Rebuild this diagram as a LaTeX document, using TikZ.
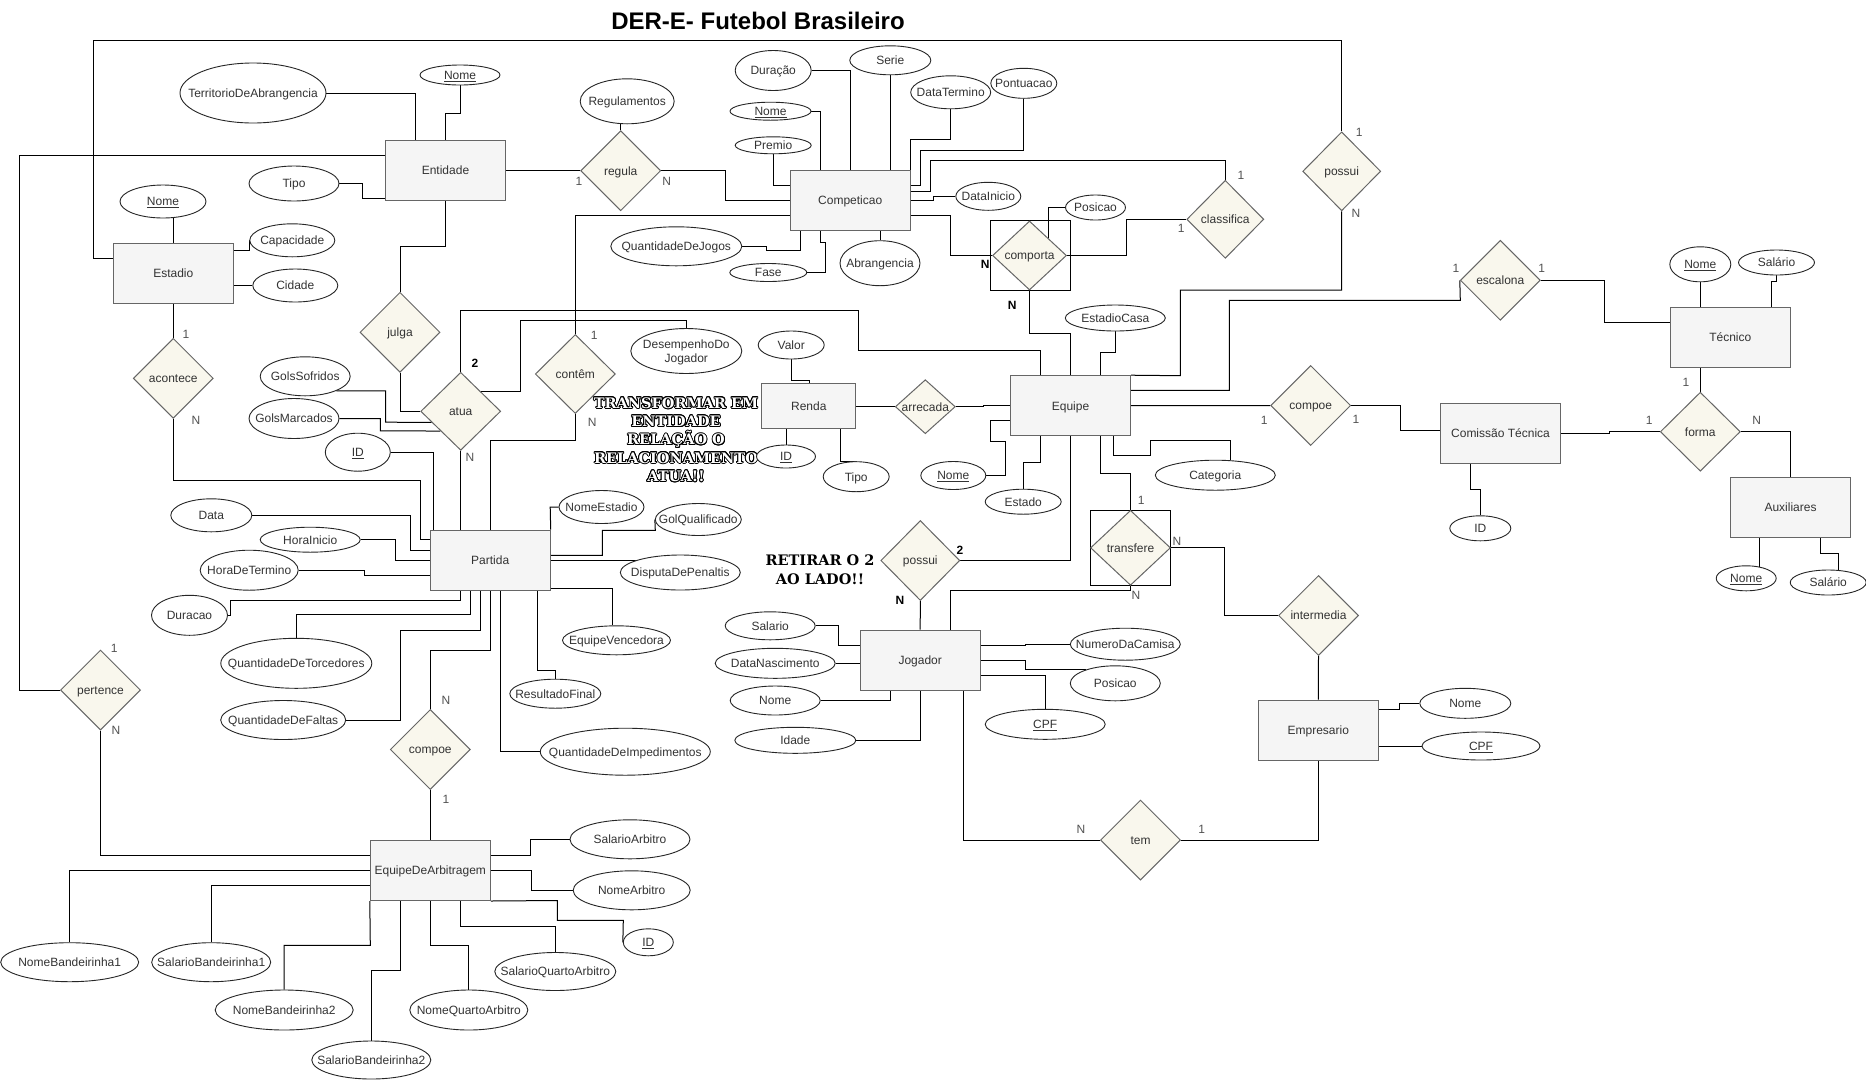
\documentclass[tikz,border=0pt]{standalone}
\usepackage{fontspec}
\setmainfont{Liberation Sans}
\newfontfamily\deco{DejaVu Serif}
\usepackage{contour}
\contourlength{0.9pt}
\usetikzlibrary{shapes.geometric,calc}
\pgfdeclarelayer{bg}
\pgfsetlayers{bg,main}
\definecolor{entfill}{HTML}{F5F5F5}
\definecolor{entdraw}{HTML}{666666}
\definecolor{relfill}{HTML}{F9F7ED}
\definecolor{txt}{HTML}{333333}
\newcommand{\tx}[1]{\raisebox{-0.36em}[0pt][0pt]{\makebox[0pt]{#1}}}
\tikzset{
  wh/.style 2 args={minimum width=#1pt, minimum height=#2pt},
  ent/.style={rectangle, draw=entdraw, fill=entfill, line width=1pt, inner sep=0pt, minimum width=120pt, minimum height=60pt, text=txt},
  rel/.style={diamond, draw=entdraw, fill=relfill, line width=1pt, inner sep=0pt, text=txt},
  att/.style={ellipse, draw=black!85, fill=white, line width=0.9pt, inner sep=0pt, text=txt},
  weakbox/.style={rectangle, draw=black, line width=1pt, inner sep=0pt},
  card/.style={text=txt!85!white, inner sep=0pt},
  cardb/.style={text=black, inner sep=0pt, font=\fontsize{12}{14}\selectfont\bfseries},
  con/.style={line width=1pt, black},
}
\begin{document}
\begin{tikzpicture}[x=1pt, y=-1pt, font=\fontsize{12}{14}\selectfont]
\useasboundingbox (0,0) rectangle (1866,1080);

% ---------- title and notes
\node[font=\fontsize{24}{28}\selectfont\bfseries, text=black, inner sep=0pt] (title) at (758,20.7) {DER-E- Futebol Brasileiro};
\node[font=\deco\bfseries\fontsize{14.5}{18.3}\selectfont, text=white, align=center, inner sep=0pt] (nota1) at (676,440)
  {\contour{black}{TRANSFORMAR EM}\\\contour{black}{ENTIDADE}\\\contour{black}{RELAÇÃO O}\\\contour{black}{RELACIONAMENTO}\\\contour{black}{ATUA!!}};
\node[font=\deco\bfseries\fontsize{14.5}{18.6}\selectfont, text=black, align=center, inner sep=0pt] (nota2) at (820,570)
  {RETIRAR O 2\\AO LADO!!};

% ---------- weak relationship frames
\node[weakbox, wh={80}{70}] (comportaBox) at (1030.3,255.2) {};
\node[weakbox, wh={80}{75}] (transfereBox) at (1130.5,547.8) {};

% ---------- entities
\node[ent] (entidade) at (445.5,170) {\tx{Entidade}};
\node[ent] (estadio) at (173.3,273.3) {\tx{Estadio}};
\node[ent] (competicao) at (850.2,200.5) {\tx{Competicao}};
\node[ent] (partida) at (490.2,560.2) {\tx{Partida}};
\node[ent, wh={94}{45}] (renda) at (808.8,405.8) {\tx{Renda}};
\node[ent] (equipe) at (1070.5,405.7) {\tx{Equipe}};
\node[ent] (jogador) at (920.2,660) {\tx{Jogador}};
\node[ent] (tecnico) at (1730.3,337.3) {\tx{Técnico}};
\node[ent] (comissao) at (1500.5,433.3) {\tx{Comissão Técnica}};
\node[ent] (auxiliares) at (1790.5,507.3) {\tx{Auxiliares}};
\node[ent] (empresario) at (1318.3,730.2) {\tx{Empresario}};
\node[ent] (arbitragem) at (430.3,870.5) {\tx{EquipeDeArbitragem}};

% ---------- relationships
\node[rel, wh={80}{80}] (regula) at (620.7,170.7) {\tx{regula}};
\node[rel, wh={80}{80}] (julga) at (400,332.3) {\tx{julga}};
\node[rel, wh={80}{80}] (acontece) at (173.3,378.3) {\tx{acontece}};
\node[rel, wh={80}{78}] (atua) at (460.7,411.3) {\tx{atua}};
\node[rel, wh={80}{79}] (contem) at (575.3,374) {\tx{contêm}};
\node[rel, wh={60}{54}] (arrecada) at (925.3,406.7) {\tx{arrecada}};
\node[rel, wh={74}{69}] (comporta) at (1029.5,255.5) {\tx{comporta}};
\node[rel, wh={77}{78}] (classifica) at (1225.3,219.3) {\tx{classifica}};
\node[rel, wh={78}{79}] (possuiE) at (1341.7,171.3) {\tx{possui}};
\node[rel, wh={80}{80}] (escalona) at (1500.3,280.3) {\tx{escalona}};
\node[rel, wh={80}{80}] (compoeE) at (1310.7,405.5) {\tx{compoe}};
\node[rel, wh={80}{79}] (forma) at (1700.3,431.7) {\tx{forma}};
\node[rel, wh={80}{75}] (transfere) at (1130.5,547.8) {\tx{transfere}};
\node[rel, wh={80}{80}] (intermedia) at (1318.5,615.5) {\tx{intermedia}};
\node[rel, wh={79}{80}] (possuiJ) at (920.3,560.5) {\tx{possui}};
\node[rel, wh={80}{80}] (tem) at (1140.5,840) {\tx{tem}};
\node[rel, wh={80}{80}] (compoeA) at (430.3,749.5) {\tx{compoe}};
\node[rel, wh={80}{80}] (pertence) at (100.5,690) {\tx{pertence}};

% ---------- attributes
\node[att, wh={146}{60}] (territorio) at (253,93) {\tx{TerritorioDeAbrangencia}};
\node[att, wh={80}{20}] (entNome) at (460,75) {\tx{\underline{Nome}}};
\node[att, wh={90}{35}] (tipoEnt) at (294,183.5) {\tx{Tipo}};
\node[att, wh={86}{33}] (estNome) at (163,201.5) {\tx{\underline{Nome}}};
\node[att, wh={85}{33}] (capacidade) at (292.3,240.3) {\tx{Capacidade}};
\node[att, wh={85}{33}] (cidade) at (295.3,285.5) {\tx{Cidade}};
\node[att, wh={94}{45}] (regulamentos) at (627.2,101.3) {\tx{Regulamentos}};
\node[att, wh={76}{40}] (duracaoC) at (773.2,70.5) {\tx{Duração}};
\node[att, wh={81}{29}] (serie) at (890.3,60.3) {\tx{Serie}};
\node[att, wh={81}{18}] (compNome) at (770.5,111.2) {\tx{\underline{Nome}}};
\node[att, wh={76}{17}] (premio) at (773.2,145.3) {\tx{Premio}};
\node[att, wh={80}{33}] (dataTermino) at (950.7,92.3) {\tx{DataTermino}};
\node[att, wh={66}{30}] (pontuacao) at (1023.8,83.3) {\tx{Pontuacao}};
\node[att, wh={65}{28}] (dataInicio) at (988.3,196.3) {\tx{DataInicio}};
\node[att, wh={131}{39}] (qtdJogos) at (676.3,246.3) {\tx{QuantidadeDeJogos}};
\node[att, wh={77}{18}] (fase) at (768.3,272.5) {\tx{Fase}};
\node[att, wh={80}{45}] (abrangencia) at (880,263.2) {\tx{Abrangencia}};
\node[att, wh={60}{25}] (posicaoC) at (1095.5,207.5) {\tx{Posicao}};
\node[att, wh={100}{26}] (estadioCasa) at (1115.3,318) {\tx{EstadioCasa}};
\node[att, wh={61}{35}] (tecNome) at (1700.3,264.3) {\tx{\underline{Nome}}};
\node[att, wh={76}{25}] (tecSalario) at (1776.5,262.5) {\tx{Salário}};
\node[att, wh={111}{45}] (desempenho) at (686.3,351)
  {\raisebox{-4.5pt}[0pt][0pt]{\makebox[0pt]{\begin{tabular}{@{}c@{}}DesempenhoDo\\Jogador\end{tabular}}}};
\node[att, wh={66}{28}] (valor) at (791.2,345) {\tx{Valor}};
\node[att, wh={59}{23}] (rendaID) at (786,456.5) {\tx{\underline{ID}}};
\node[att, wh={66}{30}] (rendaTipo) at (856.2,476.7) {\tx{Tipo}};
\node[att, wh={65}{28}] (equipeNome) at (953.3,475.5) {\tx{\underline{Nome}}};
\node[att, wh={76}{25}] (estado) at (1023.2,501.7) {\tx{Estado}};
\node[att, wh={120}{30}] (categoria) at (1215.3,475.2) {\tx{Categoria}};
\node[att, wh={61}{25}] (comID) at (1480.3,528.3) {\tx{ID}};
\node[att, wh={60}{25}] (auxNome) at (1746.2,578.3) {\tx{\underline{Nome}}};
\node[att, wh={76}{25}] (auxSalario) at (1828.2,582.5) {\tx{Salário}};
\node[att, wh={90}{39}] (golsSofridos) at (305.2,376.3) {\tx{GolsSofridos}};
\node[att, wh={90}{40}] (golsMarcados) at (294,418.5) {\tx{GolsMarcados}};
\node[att, wh={65}{38}] (partidaID) at (357.8,452.2) {\tx{\underline{ID}}};
\node[att, wh={81}{33}] (data) at (211.3,515.3) {\tx{Data}};
\node[att, wh={100}{25}] (horaInicio) at (310.2,539.7) {\tx{HoraInicio}};
\node[att, wh={98}{40}] (horaTermino) at (249.2,570.2) {\tx{HoraDeTermino}};
\node[att, wh={76}{40}] (duracaoP) at (189.5,615.3) {\tx{Duracao}};
\node[att, wh={151}{50}] (torcedores) at (296.3,663.3) {\tx{QuantidadeDeTorcedores}};
\node[att, wh={125}{39}] (faltas) at (283.2,720) {\tx{QuantidadeDeFaltas}};
\node[att, wh={85}{33}] (nomeEstadio) at (601.5,507) {\tx{NomeEstadio}};
\node[att, wh={86}{32}] (golQualificado) at (698.3,519.5) {\tx{GolQualificado}};
\node[att, wh={120}{35}] (disputa) at (680.3,572.5) {\tx{DisputaDePenaltis}};
\node[att, wh={108}{29}] (equipeVencedora) at (616.5,640.3) {\tx{EquipeVencedora}};
\node[att, wh={91}{29}] (resultadoFinal) at (555.3,693.7) {\tx{ResultadoFinal}};
\node[att, wh={170}{47}] (impedimentos) at (625.3,751.7) {\tx{QuantidadeDeImpedimentos}};
\node[att, wh={90}{28}] (jogSalario) at (770.2,625.8) {\tx{Salario}};
\node[att, wh={120}{30}] (dataNasc) at (775.2,663.3) {\tx{DataNascimento}};
\node[att, wh={90}{29}] (jogNome) at (775.2,700.5) {\tx{Nome}};
\node[att, wh={121}{26}] (idade) at (795.3,740.3) {\tx{Idade}};
\node[att, wh={110}{32}] (camisa) at (1125.3,644.2) {\tx{NumeroDaCamisa}};
\node[att, wh={90}{35}] (jogPosicao) at (1115.3,683.3) {\tx{Posicao}};
\node[att, wh={120}{30}] (jogCPF) at (1045.2,724.3) {\tx{\underline{CPF}}};
\node[att, wh={91}{30}] (empNome) at (1465.3,703.3) {\tx{Nome}};
\node[att, wh={118}{28}] (empCPF) at (1481,746) {\tx{\underline{CPF}}};
\node[att, wh={120}{39}] (salarioArb) at (630,839.3) {\tx{SalarioArbitro}};
\node[att, wh={117}{39}] (nomeArb) at (631.7,890.3) {\tx{NomeArbitro}};
\node[att, wh={50}{27}] (arbID) at (648.3,942.3) {\tx{\underline{ID}}};
\node[att, wh={121}{38}] (salQuarto) at (555.3,971.5) {\tx{SalarioQuartoArbitro}};
\node[att, wh={118}{40}] (nomeQuarto) at (468.8,1010) {\tx{NomeQuartoArbitro}};
\node[att, wh={138}{39}] (nomeB1) at (69.7,962.2) {\tx{NomeBandeirinha1}};
\node[att, wh={119}{39}] (salB1) at (211.2,962.2) {\tx{SalarioBandeirinha1}};
\node[att, wh={138}{40}] (nomeB2) at (284.2,1010) {\tx{NomeBandeirinha2}};
\node[att, wh={119}{38}] (salB2) at (371.3,1060) {\tx{SalarioBandeirinha2}};

% ---------- cardinalities
\node[card] (l1) at (579,181) {1};
\node[card] (l2) at (666.7,181) {N};
\node[card] (l3) at (186,334) {1};
\node[card] (l4) at (196,420) {N};
\node[cardb] (l5) at (475,363.3) {2};
\node[card] (l6) at (470,457.7) {N};
\node[card] (l7) at (594.3,335) {1};
\node[card] (l8) at (592.3,422.7) {N};
\node[card] (l9) at (1359.3,132.3) {1};
\node[card] (l10) at (1356,213.3) {N};
\node[card] (l11) at (1241,175.7) {1};
\node[card] (l12) at (1181.3,228.3) {1};
\node[cardb] (l13) at (985.3,264) {N};
\node[cardb] (l14) at (1012.3,305.3) {N};
\node[card] (l15) at (1456,268.3) {1};
\node[card] (l16) at (1541.7,268.3) {1};
\node[card] (l17) at (1264.3,420) {1};
\node[card] (l18) at (1356,419) {1};
\node[card] (l19) at (1686,382.7) {1};
\node[card] (l20) at (1649.3,420) {1};
\node[card] (l21) at (1756.7,420) {N};
\node[card] (l22) at (1141.3,500) {1};
\node[card] (l23) at (1177,541.7) {N};
\node[card] (l24) at (1136,595.7) {N};
\node[cardb] (l25) at (960,550) {2};
\node[cardb] (l26) at (900,600.7) {N};
\node[card] (l27) at (1081,829.3) {N};
\node[card] (l28) at (1201.7,829.3) {1};
\node[card] (l29) at (114.3,648.3) {1};
\node[card] (l30) at (116,730.7) {N};
\node[card] (l31) at (446,700.7) {N};
\node[card] (l32) at (446,799.3) {1};

% ---------- connectors
\begin{pgfonlayer}{bg}
\fill[white] (0,0) rectangle (1866,1080);
\draw[con] (estadio.west |- 0,258) -- (93,258) -- (93,40.3) -- (1341.7,40.3) -- (possuiE.north);
\draw[con] (possuiE.south) -- (1341.7,290) -- (1180.3,290) -- (1180.3,375.7) -- (equipe.north east);
\draw[con] (entidade.west |- 0,155) -- (19.3,155) -- (19.3,690) -- (pertence.west);
\draw[con] (pertence.south) -- (100.5,855) -- (arbitragem.west |- 0,855);
\draw[con] (territorio.east) -- (415.7,93) -- (entidade.north -| 415.7,0);
\draw[con] (entNome.south) -- (460,113) -- (445,113) -- (entidade.north -| 445,0);
\draw[con] (tipoEnt.east) -- (362,183.5) -- (362,198) -- (entidade.west |- 0,198);
\draw[con] (entidade.south -| 445,0) -- (445,246.7) -- (400,246.7) -- (julga.north);
\draw[con] (entidade.east |- regula.west) -- (regula.west);
\draw[con] (regula.north |- regulamentos.south) -- (regula.north);
\draw[con] (regula.east) -- (725.7,170.7) -- (725.7,200) -- (competicao.west |- 0,200);
\draw[con] (estNome.south -| estadio.north) -- (estadio.north);
\draw[con] (estadio.east |- 0,250) -- (249,250) -- (249,240.3) -- (capacidade.west);
\draw[con] (estadio.east |- cidade.west) -- (cidade.west);
\draw[con] (estadio.south) -- (acontece.north);
\draw[con] (acontece.south) -- (173.3,480) -- (420.7,480) -- (420.7,539) -- (partida.west |- 0,539);
\draw[con] (julga.south) -- (400,411.3) -- (atua.west);
\draw[con] (atua.north) -- (460.7,310.3) -- (858.3,310.3) -- (858.3,350.3) -- (1040.3,350.3) -- (equipe.north -| 1040.3,0);
\draw[con] (atua.north east) -- (atua.north east -| 520,0) -- (520,320.7) -- (686.3,320.7) -- (desempenho.north);
\draw[con] (golsSofridos.-25) -- (golsSofridos.-25 -| 385.7,0) -- (385.7,422.2) -- ($(atua.west)!0.28!(atua.south)$);
\draw[con] (golsMarcados.east) -- (380.3,418.5) -- (380.3,430.8) -- (atua.south west);
\draw[con] (partidaID.east) -- (433.3,452.2) -- (partida.north -| 433.3,0);
\draw[con] (atua.south) -- (atua.south |- partida.north);
\draw[con] (contem.north) -- (575.3,215.7) -- (competicao.west |- 0,215.7);
\draw[con] (contem.south) -- (575.3,440) -- (490.2,440) -- (partida.north);
\draw[con] (data.east) -- (410.7,515.3) -- (410.7,550.7) -- (partida.west |- 0,550.7);
\draw[con] (horaInicio.east) -- (395.7,539.7) -- (395.7,560.2) -- (partida.west);
\draw[con] (horaTermino.east) -- (364.7,570.2) -- (364.7,575.3) -- (partida.west |- 0,575.3);
\draw[con] (duracaoP.east) -- (230,615.3) -- (230,600) -- (460.7,600) -- (partida.south -| 460.7,0);
\draw[con] (torcedores.north) -- (296.3,614.3) -- (470.7,614.3) -- (partida.south -| 470.7,0);
\draw[con] (faltas.east) -- (400,720) -- (400,630.7) -- (480.7,630.7) -- (partida.south -| 480.7,0);
\draw[con] (compoeA.north) -- (430.3,650) -- (490.2,650) -- (partida.south);
\draw[con] (impedimentos.west) -- (500.7,751.7) -- (partida.south -| 500.7,0);
\draw[con] (compoeA.south) -- (arbitragem.north);
\draw[con] (nomeEstadio.west) -- (550.2,507) -- (partida.north east);
\draw[con] (golQualificado.west) -- (655.3,530.3) -- (602.3,530.3) -- (602.3,555.3) -- (partida.east |- 0,555.3);
\draw[con] (partida.east) -- (partida.east -| disputa.north west);
\draw[con] (partida.east |- 0,588.3) -- (612.3,588.3) -- (equipeVencedora.north -| 612.3,0);
\draw[con] (partida.south -| 537.3,0) -- (537.3,670.3) -- (555.3,670.3) -- (resultadoFinal.north);
\draw[con] (arbitragem.east |- 0,855.3) -- (530.3,855.3) -- (530.3,839.3) -- (salarioArb.west);
\draw[con] (arbitragem.east) -- (531.3,870.5) -- (531.3,890.3) -- (nomeArb.west);
\draw[con] (arbitragem.south east) -- (557.3,900.5) -- (557.3,920.3) -- (623.3,920.3) -- (arbID.west);
\draw[con] (arbitragem.south -| 460.3,0) -- (460.3,926.3) -- (555.3,926.3) -- (salQuarto.north);
\draw[con] (arbitragem.south) -- (430.3,945.3) -- (468.8,945.3) -- (nomeQuarto.north);
\draw[con] (arbitragem.south -| 400,0) -- (400,970) -- (371.3,970) -- (salB2.north);
\draw[con] (arbitragem.south west) -- (370.3,945.3) -- (284.2,945.3) -- (nomeB2.north);
\draw[con] (arbitragem.west |- 0,885.3) -- (211.2,885.3) -- (salB1.north);
\draw[con] (arbitragem.west) -- (69.7,870.5) -- (nomeB1.north);
\draw[con] (duracaoC.east) -- (850.2,70.5) -- (competicao.north);
\draw[con] (serie.south) -- (serie.south |- competicao.north);
\draw[con] (compNome.east) -- (820.3,111.2) -- (competicao.north -| 820.3,0);
\draw[con] (premio.south) -- (773.2,185) -- (competicao.west |- 0,185);
\draw[con] (qtdJogos.east) -- (766,246.3) -- (766,250) -- (800.3,250) -- (competicao.south -| 800.3,0);
\draw[con] (fase.east) -- (825.3,272.5) -- (825.3,242.3) -- (820.3,242.3) -- (competicao.south -| 820.3,0);
\draw[con] (abrangencia.north) -- (abrangencia.north |- competicao.south);
\draw[con] (dataTermino.south) -- (950.7,139.3) -- (910.7,139.3) -- (910.7,185) -- (competicao.east |- 0,185);
\draw[con] (pontuacao.south) -- (1023.8,150.3) -- (920.3,150.3) -- (920.3,185) -- (competicao.east |- 0,185);
\draw[con] (classifica.north) -- (1225.3,160.3) -- (930.3,160.3) -- (930.3,191.7) -- (competicao.east |- 0,191.7);
\draw[con] (competicao.east |- 0,200) -- (933.3,200) -- (933.3,196.3) -- (dataInicio.west);
\draw[con] (competicao.east |- 0,215.7) -- (950.3,215.7) -- (950.3,255.5) -- (comporta.west);
\draw[con] (comporta.north east) -- (comporta.north east |- posicaoC.west) -- (posicaoC.west);
\draw[con] (comporta.east) -- (1126.3,255.5) -- (1126.3,219.3) -- (classifica.west);
\draw[con] (comporta.south) -- (1029.5,333.3) -- (1070.5,333.3) -- (equipe.north);
\draw[con] (estadioCasa.south) -- (1115.3,352.7) -- (1100.3,352.7) -- (equipe.north -| 1100.3,0);
\draw[con] (equipe.east |- 0,390.3) -- (1229.3,390.3) -- (1229.3,300.3) -- (1460.3,300.3) -- (escalona.west);
\draw[con] (escalona.east) -- (1604.3,280.3) -- (1604.3,322.3) -- (tecnico.west |- 0,322.3);
\draw[con] (tecNome.south) -- (tecNome.south |- tecnico.north);
\draw[con] (tecSalario.south) -- (1776.5,281) -- (1771.7,281) -- (tecnico.north -| 1771.7,0);
\draw[con] (tecnico.south -| forma.north) -- (forma.north);
\draw[con] (forma.east) -- (1790.5,431.7) -- (auxiliares.north);
\draw[con] (comissao.east) -- (1609.3,433.3) -- (1609.3,431.7) -- (forma.west);
\draw[con] (comissao.south -| 1470.7,0) -- (1470.7,489.3) -- (1480.3,489.3) -- (comID.north);
\draw[con] (auxiliares.south -| auxNome.40) -- (auxNome.40);
\draw[con] (auxiliares.south -| 1820.3,0) -- (1820.3,553.3) -- (1838.3,553.3) -- (auxSalario.north -| 1838.3,0);
\draw[con] (equipe.east) -- (compoeE.west);
\draw[con] (compoeE.east) -- (1400,405.5) -- (1400,430.7) -- (comissao.west |- 0,430.7);
\draw[con] (renda.east |- arrecada.west) -- (arrecada.west);
\draw[con] (arrecada.east) -- (983.3,406.7) -- (983.3,405.7) -- (equipe.west);
\draw[con] (valor.south) -- (791.2,380) -- (809.3,380) -- (renda.north -| 809.3,0);
\draw[con] (renda.south -| rendaID.north) -- (rendaID.north);
\draw[con] (renda.south -| 840.3,0) -- (840.3,461) -- (856.2,461) -- (rendaTipo.north);
\draw[con] (equipeNome.east) -- (1005.3,475.5) -- (1005.3,441.7) -- (990.7,441.7) -- (990.7,420.7) -- (equipe.west |- 0,420.7);
\draw[con] (estado.north) -- (1023.2,462.7) -- (1040.3,462.7) -- (equipe.south -| 1040.3,0);
\draw[con] (equipe.south) -- (1070.5,560.5) -- (possuiJ.east);
\draw[con] (equipe.south -| 1100.3,0) -- (1100.3,473.7) -- (1130.5,473.7) -- (transfere.north);
\draw[con] (equipe.south -| 1113.3,0) -- (1113.3,455.3) -- (1150.3,455.3) -- (1150.3,440.3) -- (1230.3,440.3) -- (categoria.north -| 1230.3,0);
\draw[con] (transfere.east) -- (1224.3,547.8) -- (1224.3,615.5) -- (intermedia.west);
\draw[con] (intermedia.south) -- (empresario.north);
\draw[con] (transfere.south) -- (1130.5,590) -- (950.3,590) -- (jogador.north -| 950.3,0);
\draw[con] (possuiJ.south) -- (jogador.north);
\draw[con] (jogSalario.east) -- (838.7,625.8) -- (838.7,645.3) -- (jogador.west |- 0,645.3);
\draw[con] (dataNasc.east) -- (jogador.west |- dataNasc.east);
\draw[con] (jogNome.east) -- (890.3,700.5) -- (jogador.south -| 890.3,0);
\draw[con] (idade.east) -- (920.2,740.3) -- (jogador.south);
\draw[con] (jogador.east |- 0,645.3) -- (1025.3,645.3) -- (1025.3,644.2) -- (camisa.west);
\draw[con] (jogador.east |- 0,660.3) -- (1025.3,660.3) -- (jogPosicao.155 -| 1025.3,0) -- (jogPosicao.155);
\draw[con] (jogador.east |- 0,675.3) -- (1045.2,675.3) -- (jogCPF.north);
\draw[con] (jogador.south -| 963.3,0) -- (963.3,840) -- (tem.west);
\draw[con] (tem.east) -- (1318.3,840) -- (empresario.south);
\draw[con] (empresario.east |- 0,709.3) -- (1399.3,709.3) -- (1399.3,703.3) -- (empNome.west);
\draw[con] (empresario.east |- empCPF.west) -- (empCPF.west);
\end{pgfonlayer}
\end{tikzpicture}
\end{document}
